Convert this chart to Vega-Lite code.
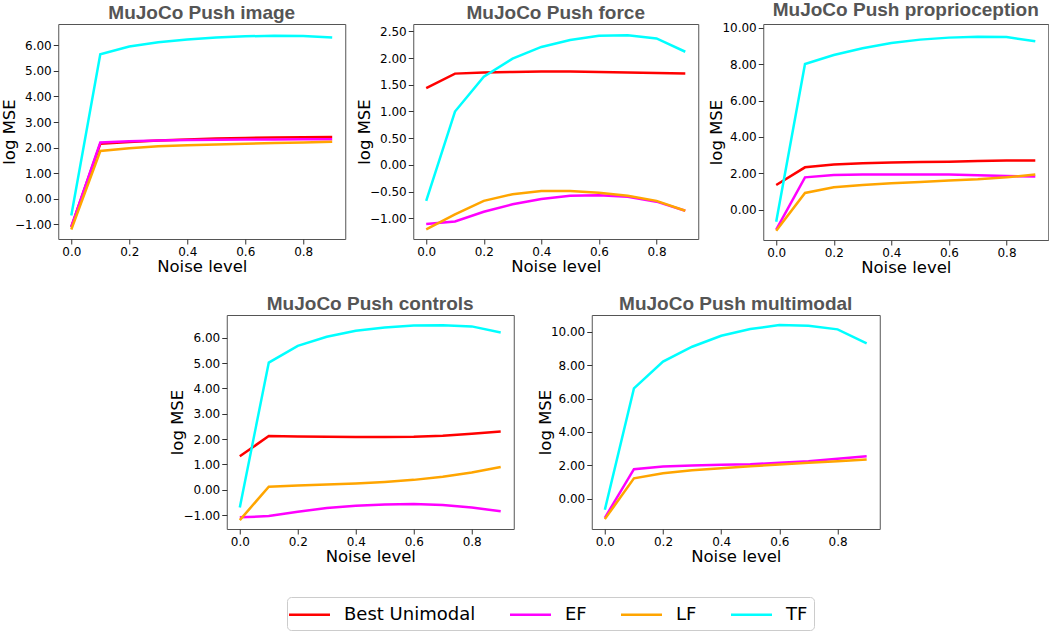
{
  "$schema": "https://vega.github.io/schema/vega-lite/v6.json",
  "background": "white",
  "padding": {"left": 0, "top": 0, "right": 0, "bottom": 0},
  "data": {"values": [
    {"p":"image","s":"Best Unimodal","x":0.0,"y":-1.1},{"p":"image","s":"Best Unimodal","x":0.1,"y":2.15},{"p":"image","s":"Best Unimodal","x":0.2,"y":2.22},{"p":"image","s":"Best Unimodal","x":0.3,"y":2.28},{"p":"image","s":"Best Unimodal","x":0.4,"y":2.32},{"p":"image","s":"Best Unimodal","x":0.5,"y":2.36},{"p":"image","s":"Best Unimodal","x":0.6,"y":2.38},{"p":"image","s":"Best Unimodal","x":0.7,"y":2.4},{"p":"image","s":"Best Unimodal","x":0.8,"y":2.41},{"p":"image","s":"Best Unimodal","x":0.9,"y":2.42},
    {"p":"image","s":"EF","x":0.0,"y":-1.1},{"p":"image","s":"EF","x":0.1,"y":2.2},{"p":"image","s":"EF","x":0.2,"y":2.25},{"p":"image","s":"EF","x":0.3,"y":2.28},{"p":"image","s":"EF","x":0.4,"y":2.3},{"p":"image","s":"EF","x":0.5,"y":2.31},{"p":"image","s":"EF","x":0.6,"y":2.32},{"p":"image","s":"EF","x":0.7,"y":2.32},{"p":"image","s":"EF","x":0.8,"y":2.33},{"p":"image","s":"EF","x":0.9,"y":2.33},
    {"p":"image","s":"LF","x":0.0,"y":-1.2},{"p":"image","s":"LF","x":0.1,"y":1.87},{"p":"image","s":"LF","x":0.2,"y":1.98},{"p":"image","s":"LF","x":0.3,"y":2.05},{"p":"image","s":"LF","x":0.4,"y":2.09},{"p":"image","s":"LF","x":0.5,"y":2.12},{"p":"image","s":"LF","x":0.6,"y":2.15},{"p":"image","s":"LF","x":0.7,"y":2.18},{"p":"image","s":"LF","x":0.8,"y":2.2},{"p":"image","s":"LF","x":0.9,"y":2.23},
    {"p":"image","s":"TF","x":0.0,"y":-0.65},{"p":"image","s":"TF","x":0.1,"y":5.65},{"p":"image","s":"TF","x":0.2,"y":5.95},{"p":"image","s":"TF","x":0.3,"y":6.12},{"p":"image","s":"TF","x":0.4,"y":6.22},{"p":"image","s":"TF","x":0.5,"y":6.3},{"p":"image","s":"TF","x":0.6,"y":6.35},{"p":"image","s":"TF","x":0.7,"y":6.37},{"p":"image","s":"TF","x":0.8,"y":6.36},{"p":"image","s":"TF","x":0.9,"y":6.3},

    {"p":"force","s":"Best Unimodal","x":0.0,"y":1.44},{"p":"force","s":"Best Unimodal","x":0.1,"y":1.71},{"p":"force","s":"Best Unimodal","x":0.2,"y":1.73},{"p":"force","s":"Best Unimodal","x":0.3,"y":1.74},{"p":"force","s":"Best Unimodal","x":0.4,"y":1.75},{"p":"force","s":"Best Unimodal","x":0.5,"y":1.75},{"p":"force","s":"Best Unimodal","x":0.6,"y":1.74},{"p":"force","s":"Best Unimodal","x":0.7,"y":1.73},{"p":"force","s":"Best Unimodal","x":0.8,"y":1.72},{"p":"force","s":"Best Unimodal","x":0.9,"y":1.71},
    {"p":"force","s":"EF","x":0.0,"y":-1.11},{"p":"force","s":"EF","x":0.1,"y":-1.06},{"p":"force","s":"EF","x":0.2,"y":-0.88},{"p":"force","s":"EF","x":0.3,"y":-0.74},{"p":"force","s":"EF","x":0.4,"y":-0.64},{"p":"force","s":"EF","x":0.5,"y":-0.58},{"p":"force","s":"EF","x":0.6,"y":-0.57},{"p":"force","s":"EF","x":0.7,"y":-0.6},{"p":"force","s":"EF","x":0.8,"y":-0.69},{"p":"force","s":"EF","x":0.9,"y":-0.86},
    {"p":"force","s":"LF","x":0.0,"y":-1.21},{"p":"force","s":"LF","x":0.1,"y":-0.93},{"p":"force","s":"LF","x":0.2,"y":-0.675},{"p":"force","s":"LF","x":0.3,"y":-0.55},{"p":"force","s":"LF","x":0.4,"y":-0.49},{"p":"force","s":"LF","x":0.5,"y":-0.49},{"p":"force","s":"LF","x":0.6,"y":-0.525},{"p":"force","s":"LF","x":0.7,"y":-0.58},{"p":"force","s":"LF","x":0.8,"y":-0.675},{"p":"force","s":"LF","x":0.9,"y":-0.86},
    {"p":"force","s":"TF","x":0.0,"y":-0.675},{"p":"force","s":"TF","x":0.1,"y":1.0},{"p":"force","s":"TF","x":0.2,"y":1.65},{"p":"force","s":"TF","x":0.3,"y":1.99},{"p":"force","s":"TF","x":0.4,"y":2.21},{"p":"force","s":"TF","x":0.5,"y":2.34},{"p":"force","s":"TF","x":0.6,"y":2.42},{"p":"force","s":"TF","x":0.7,"y":2.43},{"p":"force","s":"TF","x":0.8,"y":2.37},{"p":"force","s":"TF","x":0.9,"y":2.12},

    {"p":"proprioception","s":"Best Unimodal","x":0.0,"y":1.36},{"p":"proprioception","s":"Best Unimodal","x":0.1,"y":2.33},{"p":"proprioception","s":"Best Unimodal","x":0.2,"y":2.48},{"p":"proprioception","s":"Best Unimodal","x":0.3,"y":2.55},{"p":"proprioception","s":"Best Unimodal","x":0.4,"y":2.59},{"p":"proprioception","s":"Best Unimodal","x":0.5,"y":2.62},{"p":"proprioception","s":"Best Unimodal","x":0.6,"y":2.64},{"p":"proprioception","s":"Best Unimodal","x":0.7,"y":2.68},{"p":"proprioception","s":"Best Unimodal","x":0.8,"y":2.7},{"p":"proprioception","s":"Best Unimodal","x":0.9,"y":2.7},
    {"p":"proprioception","s":"EF","x":0.0,"y":-1.1},{"p":"proprioception","s":"EF","x":0.1,"y":1.78},{"p":"proprioception","s":"EF","x":0.2,"y":1.91},{"p":"proprioception","s":"EF","x":0.3,"y":1.94},{"p":"proprioception","s":"EF","x":0.4,"y":1.94},{"p":"proprioception","s":"EF","x":0.5,"y":1.94},{"p":"proprioception","s":"EF","x":0.6,"y":1.93},{"p":"proprioception","s":"EF","x":0.7,"y":1.89},{"p":"proprioception","s":"EF","x":0.8,"y":1.85},{"p":"proprioception","s":"EF","x":0.9,"y":1.83},
    {"p":"proprioception","s":"LF","x":0.0,"y":-1.16},{"p":"proprioception","s":"LF","x":0.1,"y":0.92},{"p":"proprioception","s":"LF","x":0.2,"y":1.23},{"p":"proprioception","s":"LF","x":0.3,"y":1.36},{"p":"proprioception","s":"LF","x":0.4,"y":1.45},{"p":"proprioception","s":"LF","x":0.5,"y":1.52},{"p":"proprioception","s":"LF","x":0.6,"y":1.6},{"p":"proprioception","s":"LF","x":0.7,"y":1.67},{"p":"proprioception","s":"LF","x":0.8,"y":1.78},{"p":"proprioception","s":"LF","x":0.9,"y":1.93},
    {"p":"proprioception","s":"TF","x":0.0,"y":-0.66},{"p":"proprioception","s":"TF","x":0.1,"y":8.02},{"p":"proprioception","s":"TF","x":0.2,"y":8.51},{"p":"proprioception","s":"TF","x":0.3,"y":8.88},{"p":"proprioception","s":"TF","x":0.4,"y":9.17},{"p":"proprioception","s":"TF","x":0.5,"y":9.36},{"p":"proprioception","s":"TF","x":0.6,"y":9.47},{"p":"proprioception","s":"TF","x":0.7,"y":9.52},{"p":"proprioception","s":"TF","x":0.8,"y":9.5},{"p":"proprioception","s":"TF","x":0.9,"y":9.27},

    {"p":"controls","s":"Best Unimodal","x":0.0,"y":1.32},{"p":"controls","s":"Best Unimodal","x":0.1,"y":2.12},{"p":"controls","s":"Best Unimodal","x":0.2,"y":2.1},{"p":"controls","s":"Best Unimodal","x":0.3,"y":2.09},{"p":"controls","s":"Best Unimodal","x":0.4,"y":2.08},{"p":"controls","s":"Best Unimodal","x":0.5,"y":2.08},{"p":"controls","s":"Best Unimodal","x":0.6,"y":2.09},{"p":"controls","s":"Best Unimodal","x":0.7,"y":2.13},{"p":"controls","s":"Best Unimodal","x":0.8,"y":2.21},{"p":"controls","s":"Best Unimodal","x":0.9,"y":2.3},
    {"p":"controls","s":"EF","x":0.0,"y":-1.09},{"p":"controls","s":"EF","x":0.1,"y":-1.04},{"p":"controls","s":"EF","x":0.2,"y":-0.87},{"p":"controls","s":"EF","x":0.3,"y":-0.72},{"p":"controls","s":"EF","x":0.4,"y":-0.63},{"p":"controls","s":"EF","x":0.5,"y":-0.58},{"p":"controls","s":"EF","x":0.6,"y":-0.56},{"p":"controls","s":"EF","x":0.7,"y":-0.6},{"p":"controls","s":"EF","x":0.8,"y":-0.7},{"p":"controls","s":"EF","x":0.9,"y":-0.85},
    {"p":"controls","s":"LF","x":0.0,"y":-1.2},{"p":"controls","s":"LF","x":0.1,"y":0.12},{"p":"controls","s":"LF","x":0.2,"y":0.17},{"p":"controls","s":"LF","x":0.3,"y":0.21},{"p":"controls","s":"LF","x":0.4,"y":0.25},{"p":"controls","s":"LF","x":0.5,"y":0.31},{"p":"controls","s":"LF","x":0.6,"y":0.39},{"p":"controls","s":"LF","x":0.7,"y":0.51},{"p":"controls","s":"LF","x":0.8,"y":0.68},{"p":"controls","s":"LF","x":0.9,"y":0.9},
    {"p":"controls","s":"TF","x":0.0,"y":-0.7},{"p":"controls","s":"TF","x":0.1,"y":5.02},{"p":"controls","s":"TF","x":0.2,"y":5.68},{"p":"controls","s":"TF","x":0.3,"y":6.04},{"p":"controls","s":"TF","x":0.4,"y":6.28},{"p":"controls","s":"TF","x":0.5,"y":6.41},{"p":"controls","s":"TF","x":0.6,"y":6.49},{"p":"controls","s":"TF","x":0.7,"y":6.5},{"p":"controls","s":"TF","x":0.8,"y":6.45},{"p":"controls","s":"TF","x":0.9,"y":6.21},

    {"p":"multimodal","s":"EF","x":0.0,"y":-1.14},{"p":"multimodal","s":"EF","x":0.1,"y":1.77},{"p":"multimodal","s":"EF","x":0.2,"y":1.93},{"p":"multimodal","s":"EF","x":0.3,"y":1.99},{"p":"multimodal","s":"EF","x":0.4,"y":2.03},{"p":"multimodal","s":"EF","x":0.5,"y":2.07},{"p":"multimodal","s":"EF","x":0.6,"y":2.15},{"p":"multimodal","s":"EF","x":0.7,"y":2.25},{"p":"multimodal","s":"EF","x":0.8,"y":2.39},{"p":"multimodal","s":"EF","x":0.9,"y":2.55},
    {"p":"multimodal","s":"LF","x":0.0,"y":-1.22},{"p":"multimodal","s":"LF","x":0.1,"y":1.22},{"p":"multimodal","s":"LF","x":0.2,"y":1.53},{"p":"multimodal","s":"LF","x":0.3,"y":1.71},{"p":"multimodal","s":"LF","x":0.4,"y":1.83},{"p":"multimodal","s":"LF","x":0.5,"y":1.95},{"p":"multimodal","s":"LF","x":0.6,"y":2.05},{"p":"multimodal","s":"LF","x":0.7,"y":2.15},{"p":"multimodal","s":"LF","x":0.8,"y":2.25},{"p":"multimodal","s":"LF","x":0.9,"y":2.35},
    {"p":"multimodal","s":"TF","x":0.0,"y":-0.66},{"p":"multimodal","s":"TF","x":0.1,"y":6.61},{"p":"multimodal","s":"TF","x":0.2,"y":8.21},{"p":"multimodal","s":"TF","x":0.3,"y":9.1},{"p":"multimodal","s":"TF","x":0.4,"y":9.76},{"p":"multimodal","s":"TF","x":0.5,"y":10.16},{"p":"multimodal","s":"TF","x":0.6,"y":10.4},{"p":"multimodal","s":"TF","x":0.7,"y":10.36},{"p":"multimodal","s":"TF","x":0.8,"y":10.14},{"p":"multimodal","s":"TF","x":0.9,"y":9.3}
  ]},
  "config": {
    "view": {"stroke": "#555", "strokeWidth": 1},
    "title": {"font": "Liberation Sans", "fontSize": 19, "fontWeight": "bold", "color": "#555", "offset": 1.5},
    "axis": {"grid": false, "domain": false, "labelFont": "DejaVu Sans", "labelFontSize": 12, "labelColor": "black", "titleFont": "DejaVu Sans", "titleFontSize": 16.5, "titleFontWeight": "normal", "titleColor": "black", "tickColor": "#333", "tickSize": 5, "labelPadding": 2},
    "axisY": {"titlePadding": -3},
    "axisX": {"titlePadding": 1},
    "line": {"strokeWidth": 2.5},
    "legend": {"orient": "none", "legendX": 229, "legendY": 573, "direction": "horizontal", "columns": 4, "symbolType": "M-2,0H2", "symbolSize": 420, "symbolStrokeWidth": 4, "symbolOffset": 5, "labelFont": "DejaVu Sans", "labelFontSize": 18, "labelColor": "black", "labelOffset": 23, "columnPadding": 29, "padding": 6, "strokeColor": "#ccc", "cornerRadius": 4}
  },
  "vconcat": [
    {"hconcat": [
      {"title": "MuJoCo Push image", "width": 287, "height": 215,
       "transform": [{"filter": "datum.p == 'image'"}],
       "mark": {"type": "line"},
       "encoding": {
         "x": {"field": "x", "type": "quantitative", "scale": {"domain": [-0.045, 0.945], "nice": false, "zero": false}, "axis": {"values": [0, 0.2, 0.4, 0.6, 0.8], "format": ".1f", "title": "Noise level"}},
         "y": {"field": "y", "type": "quantitative", "scale": {"domain": [-1.57, 6.83], "nice": false, "zero": false}, "axis": {"values": [-1, 0, 1, 2, 3, 4, 5, 6], "format": ".2f", "title": "log MSE"}},
         "color": {"field": "s", "type": "nominal", "scale": {"domain": ["Best Unimodal", "EF", "LF", "TF"], "range": ["#ff0000", "#ff00ff", "#ffa500", "#00ffff"]}, "legend": {"title": null}}
       }},
      {"title": "MuJoCo Push force", "width": 285, "height": 215,
       "transform": [{"filter": "datum.p == 'force'"}],
       "mark": {"type": "line"},
       "encoding": {
         "x": {"field": "x", "type": "quantitative", "scale": {"domain": [-0.045, 0.945], "nice": false, "zero": false}, "axis": {"values": [0, 0.2, 0.4, 0.6, 0.8], "format": ".1f", "title": "Noise level"}},
         "y": {"field": "y", "type": "quantitative", "scale": {"domain": [-1.39, 2.64], "nice": false, "zero": false}, "axis": {"values": [-1, -0.5, 0, 0.5, 1, 1.5, 2, 2.5], "format": ".2f", "title": "log MSE"}},
         "color": {"field": "s", "type": "nominal", "scale": {"domain": ["Best Unimodal", "EF", "LF", "TF"], "range": ["#ff0000", "#ff00ff", "#ffa500", "#00ffff"]}, "legend": {"title": null}}
       }},
      {"title": "MuJoCo Push proprioception", "width": 285, "height": 216,
       "transform": [{"filter": "datum.p == 'proprioception'"}],
       "mark": {"type": "line"},
       "encoding": {
         "x": {"field": "x", "type": "quantitative", "scale": {"domain": [-0.045, 0.945], "nice": false, "zero": false}, "axis": {"values": [0, 0.2, 0.4, 0.6, 0.8], "format": ".1f", "title": "Noise level"}},
         "y": {"field": "y", "type": "quantitative", "scale": {"domain": [-1.67, 10.22], "nice": false, "zero": false}, "axis": {"values": [0, 2, 4, 6, 8, 10], "format": ".2f", "title": "log MSE"}},
         "color": {"field": "s", "type": "nominal", "scale": {"domain": ["Best Unimodal", "EF", "LF", "TF"], "range": ["#ff0000", "#ff00ff", "#ffa500", "#00ffff"]}, "legend": {"title": null}}
       }}
    ], "spacing": 9},
    {"hconcat": [
      {"title": "MuJoCo Push controls", "width": 287, "height": 214,
       "transform": [{"filter": "datum.p == 'controls'"}],
       "mark": {"type": "line"},
       "encoding": {
         "x": {"field": "x", "type": "quantitative", "scale": {"domain": [-0.045, 0.945], "nice": false, "zero": false}, "axis": {"values": [0, 0.2, 0.4, 0.6, 0.8], "format": ".1f", "title": "Noise level"}},
         "y": {"field": "y", "type": "quantitative", "scale": {"domain": [-1.55, 6.9], "nice": false, "zero": false}, "axis": {"values": [-1, 0, 1, 2, 3, 4, 5, 6], "format": ".2f", "title": "log MSE"}},
         "color": {"field": "s", "type": "nominal", "scale": {"domain": ["Best Unimodal", "EF", "LF", "TF"], "range": ["#ff0000", "#ff00ff", "#ffa500", "#00ffff"]}, "legend": {"title": null}}
       }},
      {"title": "MuJoCo Push multimodal", "width": 288, "height": 214,
       "transform": [{"filter": "datum.p == 'multimodal'"}],
       "mark": {"type": "line"},
       "encoding": {
         "x": {"field": "x", "type": "quantitative", "scale": {"domain": [-0.045, 0.945], "nice": false, "zero": false}, "axis": {"values": [0, 0.2, 0.4, 0.6, 0.8], "format": ".1f", "title": "Noise level"}},
         "y": {"field": "y", "type": "quantitative", "scale": {"domain": [-1.81, 11.0], "nice": false, "zero": false}, "axis": {"values": [0, 2, 4, 6, 8, 10], "format": ".2f", "title": "log MSE"}},
         "color": {"field": "s", "type": "nominal", "scale": {"domain": ["Best Unimodal", "EF", "LF", "TF"], "range": ["#ff0000", "#ff00ff", "#ffa500", "#00ffff"]}, "legend": {"title": null}}
       }}
    ], "spacing": 22}
  ],
  "spacing": 18,
  "center": true,
  "resolve": {"scale": {"color": "shared"}}
}
